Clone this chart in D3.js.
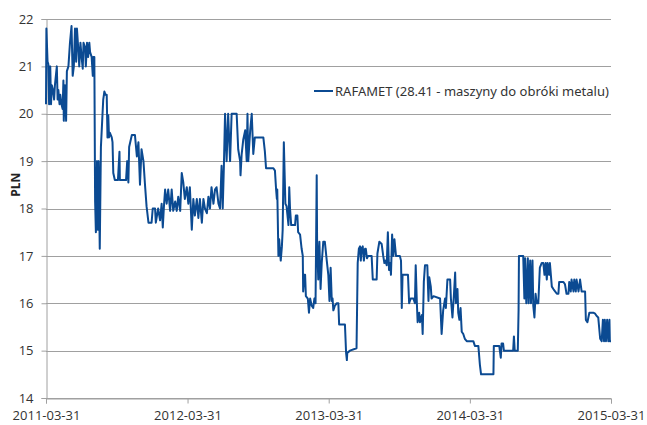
<!DOCTYPE html>
<html>
<head>
<meta charset="utf-8">
<script src="https://cdn.jsdelivr.net/npm/d3@7"></script>
<style>
  body { margin: 0; background: #fff; }
  .tick text { font-family: 'Open Sans', sans-serif; font-size: 13px; fill: #333; }
</style>
</head>
<body>
<svg id="chart" width="647" height="425"></svg>
<script>
const seriesName = 'RAFAMET (28.41 - maszyny do obróki metalu)'
const yTicks = [14, 15, 16, 17, 18, 19, 20, 21, 22]
const xTicks = ['2011-03-31', '2012-03-31', '2013-03-31', '2014-03-31', '2015-03-31']

const dates = [
  '2011-03-31', '2011-04-01', '2011-04-04', '2011-04-06', '2011-04-08', '2011-04-11', '2011-04-13', '2011-04-15',
  '2011-04-18', '2011-04-21', '2011-04-23', '2011-04-28', '2011-04-30', '2011-05-02', '2011-05-05', '2011-05-07',
  '2011-05-10', '2011-05-13', '2011-05-15', '2011-05-16', '2011-05-19', '2011-05-22', '2011-05-24', '2011-05-28',
  '2011-06-01', '2011-06-05', '2011-06-08', '2011-06-11', '2011-06-14', '2011-06-17', '2011-06-19', '2011-06-23',
  '2011-06-25', '2011-06-28', '2011-07-01', '2011-07-04', '2011-07-06', '2011-07-10', '2011-07-12', '2011-07-15',
  '2011-07-18', '2011-07-21', '2011-07-23', '2011-07-27', '2011-07-30', '2011-07-31', '2011-08-03', '2011-08-05',
  '2011-08-07', '2011-08-10', '2011-08-12', '2011-08-14', '2011-08-17', '2011-08-20', '2011-08-24', '2011-08-26',
  '2011-08-29', '2011-09-01', '2011-09-04', '2011-09-06', '2011-09-08', '2011-09-10', '2011-09-12', '2011-09-17',
  '2011-09-19', '2011-09-21', '2011-09-25', '2011-10-03', '2011-10-07', '2011-10-08', '2011-10-24', '2011-10-27',
  '2011-10-30', '2011-11-01', '2011-11-08', '2011-11-16', '2011-11-21', '2011-11-25', '2011-11-29', '2011-12-03',
  '2011-12-08', '2011-12-12', '2011-12-16', '2011-12-21', '2011-12-29', '2012-01-01', '2012-01-07', '2012-01-09',
  '2012-01-15', '2012-01-20', '2012-01-24', '2012-01-27', '2012-01-30', '2012-02-02', '2012-02-06', '2012-02-10',
  '2012-02-15', '2012-02-19', '2012-02-23', '2012-02-28', '2012-03-03', '2012-03-07', '2012-03-12', '2012-03-16',
  '2012-03-20', '2012-03-24', '2012-03-29', '2012-04-02', '2012-04-06', '2012-04-11', '2012-04-15', '2012-04-19',
  '2012-04-24', '2012-04-28', '2012-05-02', '2012-05-07', '2012-05-11', '2012-05-15', '2012-05-20', '2012-05-24',
  '2012-05-28', '2012-06-01', '2012-06-06', '2012-06-10', '2012-06-14', '2012-06-19', '2012-06-23', '2012-06-27',
  '2012-06-30', '2012-07-03', '2012-07-06', '2012-07-10', '2012-07-14', '2012-07-19', '2012-07-23', '2012-08-05',
  '2012-08-09', '2012-08-14', '2012-08-15', '2012-08-18', '2012-08-22', '2012-08-27', '2012-08-31', '2012-09-02',
  '2012-09-04', '2012-09-09', '2012-09-13', '2012-09-17', '2012-09-21', '2012-10-13', '2012-10-17', '2012-10-20',
  '2012-11-08', '2012-11-12', '2012-11-15', '2012-11-17', '2012-11-18', '2012-11-21', '2012-11-23', '2012-11-27',
  '2012-11-30', '2012-12-02', '2012-12-05', '2012-12-09', '2012-12-12', '2012-12-17', '2012-12-19', '2012-12-21',
  '2012-12-24', '2013-01-03', '2013-01-05', '2013-01-09', '2013-01-11', '2013-01-16', '2013-01-20', '2013-01-23',
  '2013-01-24', '2013-01-27', '2013-01-29', '2013-01-31', '2013-02-05', '2013-02-08', '2013-02-11', '2013-02-15',
  '2013-02-19', '2013-02-22', '2013-02-25', '2013-02-28', '2013-03-01', '2013-03-04', '2013-03-07', '2013-03-10',
  '2013-03-13', '2013-03-17', '2013-03-21', '2013-03-26', '2013-03-30', '2013-04-02', '2013-04-05', '2013-04-08',
  '2013-04-10', '2013-04-12', '2013-04-16', '2013-04-21', '2013-04-25', '2013-04-27', '2013-05-12', '2013-05-15',
  '2013-05-17', '2013-05-18', '2013-05-25', '2013-06-11', '2013-06-14', '2013-06-17', '2013-06-20', '2013-06-22',
  '2013-06-24', '2013-06-27', '2013-06-30', '2013-07-03', '2013-07-05', '2013-07-08', '2013-07-11', '2013-07-20',
  '2013-07-23', '2013-08-02', '2013-08-04', '2013-08-09', '2013-08-15', '2013-08-19', '2013-08-22', '2013-08-25',
  '2013-08-28', '2013-08-31', '2013-09-03', '2013-09-06', '2013-09-08', '2013-09-11', '2013-09-14', '2013-09-17',
  '2013-09-21', '2013-10-01', '2013-10-04', '2013-10-06', '2013-10-08', '2013-10-22', '2013-10-25', '2013-10-29',
  '2013-11-05', '2013-11-09', '2013-11-11', '2013-11-14', '2013-11-16', '2013-11-20', '2013-11-22', '2013-11-27',
  '2013-11-29', '2013-12-02', '2013-12-05', '2013-12-11', '2013-12-14', '2013-12-16', '2013-12-20', '2013-12-22',
  '2013-12-27', '2014-01-13', '2014-01-17', '2014-01-21', '2014-01-26', '2014-01-28', '2014-02-01', '2014-02-08',
  '2014-02-10', '2014-02-14', '2014-02-18', '2014-02-21', '2014-02-23', '2014-02-27', '2014-03-01', '2014-03-04',
  '2014-03-07', '2014-03-10', '2014-03-14', '2014-03-18', '2014-03-23', '2014-04-09', '2014-04-13', '2014-04-22',
  '2014-04-26', '2014-04-29', '2014-05-31', '2014-06-01', '2014-06-15', '2014-06-19', '2014-06-21', '2014-06-25',
  '2014-06-27', '2014-07-21', '2014-07-23', '2014-07-25', '2014-08-02', '2014-08-04', '2014-08-05', '2014-08-16',
  '2014-08-19', '2014-08-21', '2014-08-24', '2014-08-28', '2014-08-30', '2014-09-03', '2014-09-05', '2014-09-09',
  '2014-09-11', '2014-09-14', '2014-09-17', '2014-09-20', '2014-09-24', '2014-09-28', '2014-10-03', '2014-10-07',
  '2014-10-10', '2014-10-13', '2014-10-16', '2014-10-18', '2014-10-22', '2014-10-24', '2014-10-29', '2014-11-02',
  '2014-11-11', '2014-11-15', '2014-11-17', '2014-11-28', '2014-12-02', '2014-12-06', '2014-12-11', '2014-12-13',
  '2014-12-17', '2014-12-19', '2014-12-24', '2014-12-26', '2014-12-30', '2015-01-01', '2015-01-06', '2015-01-10',
  '2015-01-14', '2015-01-23', '2015-01-25', '2015-01-29', '2015-02-03', '2015-02-13', '2015-02-18', '2015-02-22',
  '2015-02-26', '2015-03-03', '2015-03-07', '2015-03-10', '2015-03-13', '2015-03-15', '2015-03-18', '2015-03-21',
  '2015-03-24', '2015-03-27', '2015-03-28', '2015-03-31'
]

const prices = [
  20.2, 21.8, 21.1, 21.05, 20.2, 21.0, 20.2, 20.6,
  20.5, 20.3, 20.6, 21.0, 20.3, 20.5, 20.2, 20.4,
  20.2, 20.1, 20.7, 19.85, 20.6, 19.85, 20.9, 21.0,
  21.5, 21.85, 20.8, 21.0, 21.8, 21.1, 21.8, 21.3,
  21.0, 21.5, 21.2, 20.95, 21.5, 21.4, 21.0, 21.5,
  21.2, 21.5, 21.3, 21.2, 20.8, 21.2, 21.2, 18.15,
  17.5, 19.0, 17.55, 19.0, 17.15, 19.3, 19.97, 20.3,
  20.47, 20.4, 20.4, 19.5, 19.97, 19.5, 19.6, 19.5,
  19.4, 18.75, 18.6, 18.6, 19.2, 18.6, 18.6, 19.0,
  18.55, 19.3, 19.55, 19.55, 19.1, 19.4, 18.5, 19.25,
  19.0, 18.5, 18.05, 17.7, 17.7, 18.0, 18.0, 17.7,
  18.0, 17.75, 18.1, 17.6, 18.05, 18.4, 18.1, 18.4,
  17.95, 18.4, 17.95, 18.15, 17.95, 18.25, 17.95, 18.75,
  18.55, 18.2, 18.45, 18.1, 18.45, 17.55, 18.2, 17.85,
  18.2, 17.8, 18.2, 17.7, 18.2, 18.0, 17.9, 18.25,
  18.0, 18.45, 18.1, 18.4, 18.45, 18.1, 18.0, 18.9,
  18.0, 18.9, 20.0, 19.0, 20.0, 19.0, 20.0, 20.0,
  19.25, 19.0, 18.7, 19.15, 19.45, 19.65, 19.0, 20.0,
  19.0, 19.65, 20.0, 19.15, 19.5, 19.5, 19.2, 18.85,
  18.85, 18.8, 18.4, 18.2, 18.4, 17.0, 17.35, 16.9,
  17.2, 17.55, 19.4, 18.1, 18.05, 17.65, 18.45, 18.0,
  17.65, 17.65, 17.85, 17.85, 17.5, 17.45, 17.15, 17.0,
  16.25, 16.6, 16.6, 16.15, 16.1, 15.8, 16.1, 15.95,
  15.9, 16.1, 16.0, 18.7, 17.35, 16.5, 17.3, 16.3,
  16.85, 17.3, 17.3, 16.9, 16.6, 16.05, 16.75, 16.05,
  16.1, 15.85, 15.95, 16.0, 16.0, 15.55, 15.55, 14.95,
  14.8, 14.95, 15.0, 15.05, 16.85, 17.15, 17.2, 16.9,
  17.15, 17.2, 16.9, 17.15, 17.15, 16.95, 17.0, 17.0,
  16.5, 16.5, 17.05, 17.3, 17.25, 17.0, 16.85, 16.9,
  16.8, 17.5, 16.7, 16.85, 16.6, 17.45, 17.0, 17.35,
  17.0, 17.0, 16.9, 15.9, 16.6, 16.6, 16.0, 16.1,
  16.1, 16.0, 16.8, 16.0, 15.6, 15.8, 15.6, 15.75,
  15.35, 16.45, 16.8, 16.8, 16.05, 16.55, 16.35, 16.1,
  16.15, 16.1, 15.35, 15.85, 16.1, 15.9, 16.5, 16.5,
  16.1, 15.7, 16.2, 16.65, 16.0, 16.3, 15.8, 15.65,
  15.9, 15.4, 15.35, 15.25, 15.2, 15.2, 15.1, 15.1,
  14.7, 14.5, 14.5, 15.1, 15.1, 14.85, 15.15, 15.15,
  15.0, 15.0, 15.3, 15.0, 15.0, 15.85, 17.0, 17.0,
  16.1, 16.95, 16.0, 16.95, 16.0, 16.9, 16.0, 16.9,
  15.95, 15.7, 16.2, 16.0, 16.0, 16.75, 16.85, 16.85,
  16.6, 16.85, 16.5, 16.85, 16.6, 16.85, 16.35, 16.3,
  16.2, 16.2, 16.45, 16.45, 16.4, 16.2, 16.2, 16.45,
  16.25, 16.5, 16.25, 16.5, 16.25, 16.5, 16.25, 16.5,
  16.25, 16.25, 15.65, 15.6, 15.8, 15.8, 15.78, 15.73,
  15.7, 15.25, 15.2, 15.65, 15.2, 15.65, 15.2, 15.65,
  15.2, 15.65, 15.2, 15.2
]

const parseDate = d3.timeParse('%Y-%m-%d')
const series = dates.map((d, i) => ({ date: parseDate(d), value: prices[i] }))

const svg = d3.select('#chart')
const margin = { top: 19, right: 36, bottom: 27, left: 46 }
const width = +svg.attr('width') - margin.left - margin.right
const height = +svg.attr('height') - margin.top - margin.bottom

const x = d3.scaleTime()
  .domain([parseDate(xTicks[0]), parseDate(xTicks[xTicks.length - 1])])
  .range([0, width])
const y = d3.scaleLinear()
  .domain([yTicks[0], yTicks[yTicks.length - 1]])
  .range([height, 0])

const g = svg.append('g').attr('transform', `translate(${margin.left},${margin.top})`)

// horizontal grid
g.append('g')
  .selectAll('line')
  .data(yTicks)
  .join('line')
  .attr('x1', 0)
  .attr('x2', width)
  .attr('y1', (d) => Math.round(y(d)) + 0.5)
  .attr('y2', (d) => Math.round(y(d)) + 0.5)
  .attr('stroke', '#a0a0a0')
  .attr('stroke-width', 1)

const yAxis = g.append('g')
  .attr('transform', 'translate(0.5,0)')
  .call(d3.axisLeft(y).tickValues(yTicks).tickSize(5).tickPadding(8).tickFormat(d3.format('d')))
yAxis.select('.domain').attr('stroke', '#a0a0a0')
yAxis.selectAll('.tick line').attr('stroke', '#a0a0a0')

const xAxis = g.append('g')
  .attr('transform', `translate(0,${Math.round(height) + 0.5})`)
  .call(d3.axisBottom(x).tickValues(xTicks.map(parseDate)).tickSize(5).tickPadding(7).tickFormat(d3.timeFormat('%Y-%m-%d')))
xAxis.select('.domain').attr('stroke', '#a0a0a0')
xAxis.selectAll('.tick line').attr('stroke', '#a0a0a0')

g.append('text')
  .attr('transform', `translate(${-26},${y(18.5)}) rotate(-90)`)
  .attr('text-anchor', 'middle')
  .attr('font-family', "'Open Sans', sans-serif")
  .attr('font-weight', 'bold')
  .attr('font-size', 12)
  .attr('fill', '#222')
  .text('PLN')

const line = d3.line()
  .x((d) => x(d.date))
  .y((d) => y(d.value))

g.append('path')
  .datum(series)
  .attr('fill', 'none')
  .attr('stroke', '#0b4a92')
  .attr('stroke-width', 2)
  .attr('stroke-linejoin', 'round')
  .attr('d', line)

// legend
const legend = g.append('g').attr('transform', `translate(${268},${y(20.48)})`)
legend.append('line')
  .attr('x1', 0)
  .attr('x2', 19)
  .attr('stroke', '#0b4a92')
  .attr('stroke-width', 2)
legend.append('text')
  .attr('x', 21)
  .attr('dy', '0.35em')
  .attr('font-family', "'Noto Sans', sans-serif")
  .attr('font-size', 13)
  .attr('fill', '#333')
  .text(seriesName)
</script>
</body>
</html>
